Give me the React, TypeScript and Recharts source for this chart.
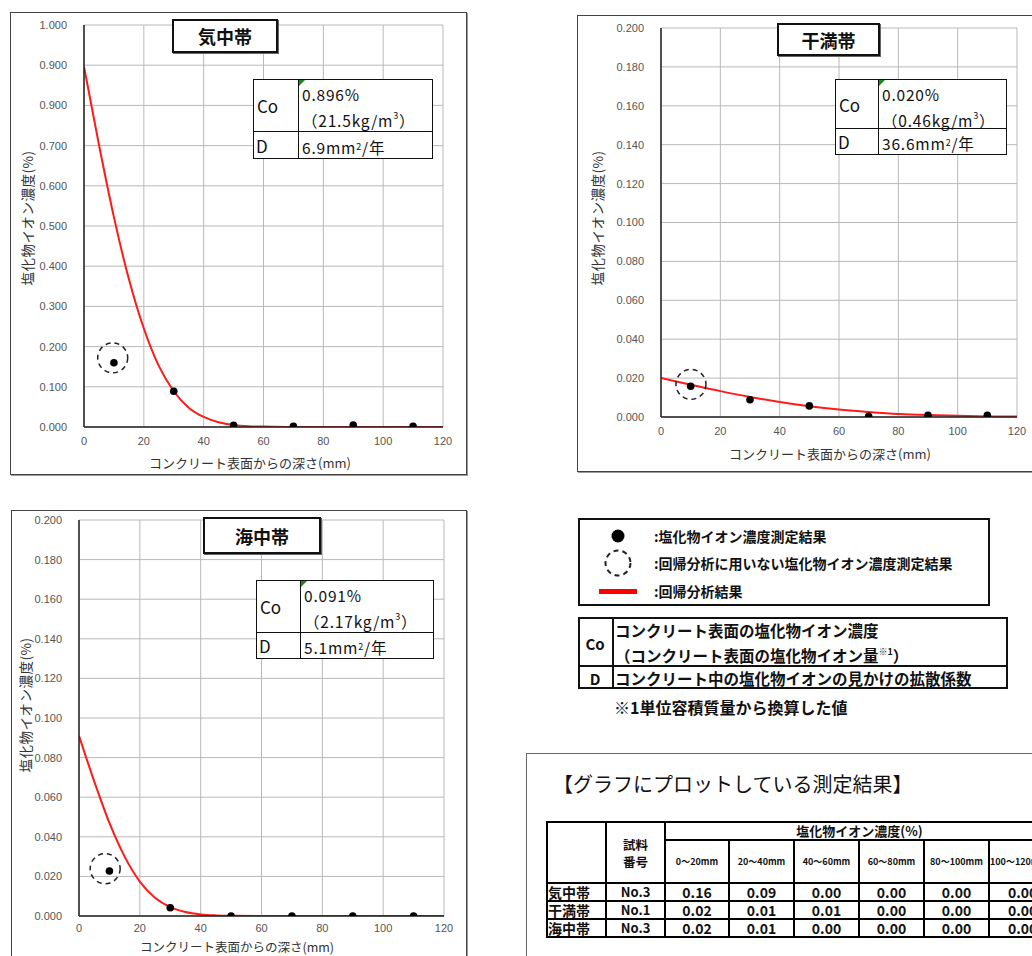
import React from 'react';
import { ComposedChart, Line, Scatter, XAxis, YAxis, CartesianGrid } from 'recharts';

// ---------- shared ----------
const depthTicks = [0, 20, 40, 60, 80, 100, 120];
const depthTickLabels = ['0', '20', '40', '60', '80', '100', '120'];
const measureDepths = [10, 30, 50, 70, 90, 110];
const xAxisTitle = 'コンクリート表面からの深さ(mm)';
const yAxisTitle = '塩化物イオン濃度(%)';

// ---------- 気中帯 ----------
const airYTicks = [0, 0.1, 0.2, 0.3, 0.4, 0.5, 0.6, 0.7, 0.8, 0.9, 1.0];
const airYTickLabels = ['0.000', '0.100', '0.200', '0.300', '0.400', '0.500', '0.600', '0.700', '0.900', '0.900', '1.000'];
const airCurveDepths = [0, 5, 10, 15, 20, 25, 30, 35, 40, 45, 50, 55, 60, 70, 80, 90, 100, 110, 120];
const airCurveValues = [0.896, 0.702, 0.522, 0.368, 0.245, 0.152, 0.089, 0.048, 0.025, 0.012, 0.005, 0.002, 0.001, 0, 0, 0, 0, 0, 0];
const airMeasured = [0.16, 0.089, 0.004, 0.002, 0.005, 0.002];
const airExcludedDepth = [9.6];
const airExcludedValue = [0.172];

// ---------- 干満帯 ----------
const tidalYTicks = [0, 0.02, 0.04, 0.06, 0.08, 0.1, 0.12, 0.14, 0.16, 0.18, 0.2];
const tidalYTickLabels = ['0.000', '0.020', '0.040', '0.060', '0.080', '0.100', '0.120', '0.140', '0.160', '0.180', '0.200'];
const tidalCurveDepths = [0, 10, 20, 30, 40, 50, 60, 70, 80, 90, 100, 110, 120];
const tidalCurveValues = [0.02, 0.0166, 0.0133, 0.0103, 0.0077, 0.0055, 0.0038, 0.0026, 0.0016, 0.001, 0.0006, 0.0003, 0.0002];
const tidalMeasured = [0.0158, 0.0089, 0.0057, 0.0003, 0.0009, 0.0009];
const tidalExcludedDepth = [10.1];
const tidalExcludedValue = [0.0168];

// ---------- 海中帯 ----------
const seaYTicks = [0, 0.02, 0.04, 0.06, 0.08, 0.1, 0.12, 0.14, 0.16, 0.18, 0.2];
const seaYTickLabels = ['0.000', '0.020', '0.040', '0.060', '0.080', '0.100', '0.120', '0.140', '0.160', '0.180', '0.200'];
const seaCurveDepths = [0, 5, 10, 15, 20, 25, 30, 35, 40, 45, 50, 60, 70, 80, 90, 100, 110, 120];
const seaCurveValues = [0.091, 0.068, 0.047, 0.03, 0.0174, 0.0092, 0.0045, 0.002, 0.0008, 0.0003, 0.0001, 0, 0, 0, 0, 0, 0, 0];
const seaMeasured = [0.0227, 0.0042, 0, 0, 0, 0];
const seaExcludedDepth = [8.6];
const seaExcludedValue = [0.0239];

// ---------- measurement table ----------
const tableZones = ['気中帯', '干満帯', '海中帯'];
const tableSampleNos = ['No.3', 'No.1', 'No.3'];
const tableRanges = ['0～20mm', '20～40mm', '40～60mm', '60～80mm', '80～100mm', '100～120mm'];
const tableAir = [0.16, 0.09, 0.0, 0.0, 0.0, 0.0];
const tableTidal = [0.02, 0.01, 0.01, 0.0, 0.0, 0.0];
const tableSea = [0.02, 0.01, 0.0, 0.0, 0.0, 0.0];

const JP = '"Noto Sans CJK JP", "Noto Sans", sans-serif';
const TICKFONT = '"Liberation Sans", Arial, sans-serif';

type Cfg = {
  left: number; top: number; width: number; height: number;
  margin: { top: number; right: number; bottom: number; left: number };
  yAxisWidth: number; xAxisHeight: number; xTickMargin: number;
  yTicks: number[]; yLabels: string[]; yMax: number;
  curveX: number[]; curveY: number[];
  pointY: number[]; exclX: number[]; exclY: number[];
};

const Dot = (p: any) => <circle cx={p.cx} cy={p.cy} r={3.8} fill="#000" />;
const DashedRing = (p: any) => (
  <circle cx={p.cx} cy={p.cy} r={15} fill="none" stroke="#222" strokeWidth={1.5} strokeDasharray="5 4" />
);

function DepthChart({ cfg }: { cfg: Cfg }) {
  const curve = cfg.curveX.map((x, i) => ({ x, y: cfg.curveY[i] }));
  const pts = measureDepths.map((x, i) => ({ x, y: cfg.pointY[i] }));
  const excl = cfg.exclX.map((x, i) => ({ x, y: cfg.exclY[i] }));
  return (
    <div style={{ position: 'absolute', left: cfg.left, top: cfg.top }}>
      <ComposedChart width={cfg.width} height={cfg.height} margin={cfg.margin}>
        <CartesianGrid stroke="#b9b9b9" strokeWidth={1} />
        <XAxis
          type="number" dataKey="x" domain={[0, 120]} ticks={depthTicks} interval={0}
          allowDataOverflow height={cfg.xAxisHeight}
          tickFormatter={(v: number, i: number) => depthTickLabels[depthTicks.indexOf(v)] ?? depthTickLabels[i]}
          tickLine={false} tickSize={6} tickMargin={cfg.xTickMargin}
          axisLine={{ stroke: '#222', strokeWidth: 1.5 }}
          tick={{ fill: '#555', fontSize: 11, fontFamily: TICKFONT }}
        />
        <YAxis
          type="number" dataKey="y" domain={[0, cfg.yMax]} ticks={cfg.yTicks} interval={0}
          allowDataOverflow width={cfg.yAxisWidth}
          tickFormatter={(v: number, i: number) => cfg.yLabels[cfg.yTicks.indexOf(v)] ?? cfg.yLabels[i]}
          tickLine={false} tickSize={6} tickMargin={11}
          axisLine={{ stroke: '#222', strokeWidth: 1.5 }}
          tick={{ fill: '#555', fontSize: 11, fontFamily: TICKFONT }}
        />
        <Line data={curve} dataKey="y" type="monotone" stroke="#ff1a1a" strokeWidth={2}
          dot={false} activeDot={false} isAnimationActive={false} />
        <Scatter data={pts} dataKey="y" shape={Dot} isAnimationActive={false} />
        <Scatter data={excl} dataKey="y" shape={DashedRing} isAnimationActive={false} />
      </ComposedChart>
    </div>
  );
}

function CenterText({ x, y, children, style }: any) {
  return (
    <div style={{
      position: 'absolute', left: x, top: y, transform: 'translate(-50%, -50%)',
      whiteSpace: 'nowrap', fontFamily: JP, ...style,
    }}>{children}</div>
  );
}

function VLabel({ x, y }: { x: number; y: number }) {
  return (
    <div style={{
      position: 'absolute', left: x, top: y, transform: 'translate(-50%, -50%) rotate(-90deg)',
      whiteSpace: 'nowrap', fontFamily: JP, fontSize: 13.5, color: '#333', letterSpacing: 0.5,
    }}>{yAxisTitle}</div>
  );
}

function TitleBox({ x, y, w, h, text }: any) {
  return (
    <div style={{
      position: 'absolute', left: x, top: y, width: w, height: h, boxSizing: 'border-box',
      border: '2px solid #111', background: '#fff', display: 'flex', alignItems: 'center',
      justifyContent: 'center', fontFamily: JP, fontWeight: 700, fontSize: 18, color: '#111',
      boxShadow: '1px 1px 0 #666',
    }}>{text}</div>
  );
}

function InfoTable({ x, y, w, c1, r1, r2, co, kg, d }: any) {
  const cell: React.CSSProperties = { position: 'absolute', boxSizing: 'border-box', fontFamily: JP, color: '#111' };
  return (
    <div style={{ position: 'absolute', left: x, top: y, width: w, height: r1 + r2, background: '#fff',
      border: '1.5px solid #111', boxSizing: 'border-box' }}>
      <div style={{ ...cell, left: 0, top: 0, width: c1, height: r1, borderRight: '1.5px solid #111',
        borderBottom: '1.5px solid #111', display: 'flex', alignItems: 'center', paddingLeft: 3, fontSize: 17 }}>Co</div>
      <div style={{ ...cell, left: 0, top: r1, width: c1, height: r2 - 1.5, borderRight: '1.5px solid #111',
        display: 'flex', alignItems: 'center', paddingLeft: 2, fontSize: 17 }}>D</div>
      <div style={{ ...cell, left: c1, top: 0, right: 0, height: r1, borderBottom: '1.5px solid #111',
        paddingLeft: 3, fontSize: 15.5, lineHeight: '26px', paddingTop: 1, letterSpacing: 0.8 }}>
        <div>{co}</div>
        <div>（{kg}kg/m<sup style={{ fontSize: 9, verticalAlign: 8, lineHeight: 0 }}>3</sup>）</div>
      </div>
      <div style={{ position: 'absolute', left: c1, top: 0, width: 0, height: 0,
        borderTop: '6px solid #1a8a1a', borderRight: '6px solid transparent' }} />
      <div style={{ ...cell, left: c1, top: r1, right: 0, height: r2 - 1.5, paddingLeft: 3,
        fontSize: 15.5, display: 'flex', alignItems: 'center', paddingTop: 3, letterSpacing: 0.8 }}>
        {d}mm<sup style={{ fontSize: 9, verticalAlign: 8, lineHeight: 0 }}>2</sup>/年
      </div>
    </div>
  );
}

const airCfg: Cfg = {
  left: 10, top: 12, width: 457, height: 463,
  margin: { top: 13, right: 24, bottom: 18, left: 0 },
  yAxisWidth: 74, xAxisHeight: 30, xTickMargin: 4,
  yTicks: airYTicks, yLabels: airYTickLabels, yMax: 1.0,
  curveX: airCurveDepths, curveY: airCurveValues,
  pointY: airMeasured, exclX: airExcludedDepth, exclY: airExcludedValue,
};
const tidalCfg: Cfg = {
  left: 577, top: 15, width: 470, height: 457,
  margin: { top: 13, right: 30, bottom: 25, left: 0 },
  yAxisWidth: 84, xAxisHeight: 30, xTickMargin: 4,
  yTicks: tidalYTicks, yLabels: tidalYTickLabels, yMax: 0.2,
  curveX: tidalCurveDepths, curveY: tidalCurveValues,
  pointY: tidalMeasured, exclX: tidalExcludedDepth, exclY: tidalExcludedValue,
};
const seaCfg: Cfg = {
  left: 11, top: 510, width: 456, height: 470,
  margin: { top: 10, right: 23, bottom: 34, left: 0 },
  yAxisWidth: 68, xAxisHeight: 30, xTickMargin: 2,
  yTicks: seaYTicks, yLabels: seaYTickLabels, yMax: 0.2,
  curveX: seaCurveDepths, curveY: seaCurveValues,
  pointY: seaMeasured, exclX: seaExcludedDepth, exclY: seaExcludedValue,
};

function PanelBorder({ cfg }: { cfg: Cfg }) {
  return <div style={{ position: 'absolute', left: cfg.left, top: cfg.top, width: cfg.width, height: cfg.height,
    border: '1.5px solid #444', boxSizing: 'border-box', boxShadow: '1px 1px 0 #999' }} />;
}

function MeasureTable() {
  const colW = [59, 59, 64, 65, 65, 65, 65, 65];
  const b = '2px solid #000';
  const td: React.CSSProperties = { border: b, padding: 0, textAlign: 'center', fontFamily: JP, fontWeight: 700,
    color: '#111', overflow: 'hidden', whiteSpace: 'nowrap' };
  const rows = [tableAir, tableTidal, tableSea];
  return (
    <table style={{ position: 'absolute', left: 546, top: 821, borderCollapse: 'collapse', tableLayout: 'fixed',
      width: colW.reduce((a, c) => a + c, 0) }}>
      <colgroup>{colW.map((w, i) => <col key={i} style={{ width: w }} />)}</colgroup>
      <tbody>
        <tr style={{ height: 18 }}>
          <td rowSpan={2} style={td}></td>
          <td rowSpan={2} style={{ ...td, fontSize: 12.5, lineHeight: '17px' }}>試料<br />番号</td>
          <td colSpan={6} style={{ ...td, fontSize: 13, lineHeight: '14px' }}>塩化物イオン濃度(%)</td>
        </tr>
        <tr style={{ height: 43 }}>
          {tableRanges.map((r, i) => (
            <td key={i} style={{ ...td, fontSize: 9, textAlign: i === 5 ? 'left' : 'center' }}>{r}</td>
          ))}
        </tr>
        {rows.map((vals, ri) => (
          <tr key={ri} style={{ height: 18 }}>
            <td style={{ ...td, fontSize: 14, textAlign: 'left', lineHeight: '14px' }}>{tableZones[ri]}</td>
            <td style={{ ...td, fontSize: 13, lineHeight: '14px' }}>{tableSampleNos[ri]}</td>
            {vals.map((v, ci) => (
              <td key={ci} style={{ ...td, fontSize: 14, lineHeight: '14px', textAlign: ci === 5 ? 'left' : 'center',
                paddingLeft: ci === 5 ? 18 : 0 }}>{v.toFixed(2)}</td>
            ))}
          </tr>
        ))}
      </tbody>
    </table>
  );
}

export default function App() {
  return (
    <div style={{ position: 'absolute', left: 0, top: 0, width: 1032, height: 956, overflow: 'hidden', background: '#fff' }}>
      {/* 気中帯 */}
      <PanelBorder cfg={airCfg} />
      <DepthChart cfg={airCfg} />
      <VLabel x={27} y={218} />
      <CenterText x={250} y={462} style={{ fontSize: 13, color: '#333' }}>{xAxisTitle}</CenterText>
      <TitleBox x={172} y={19} w={106} h={34} text="気中帯" />
      <InfoTable x={253} y={79} w={180} c1={45} r1={52} r2={28} co="0.896%" kg="21.5" d="6.9" />

      {/* 干満帯 */}
      <PanelBorder cfg={tidalCfg} />
      <DepthChart cfg={tidalCfg} />
      <VLabel x={597} y={218} />
      <CenterText x={830} y={453} style={{ fontSize: 13, color: '#333' }}>{xAxisTitle}</CenterText>
      <TitleBox x={777} y={23} w={103} h={33} text="干満帯" />
      <InfoTable x={835} y={79} w={172} c1={43} r1={49} r2={27} co="0.020%" kg="0.46" d="36.6" />

      {/* 海中帯 */}
      <PanelBorder cfg={seaCfg} />
      <DepthChart cfg={seaCfg} />
      <VLabel x={25} y={705} />
      <CenterText x={237} y={946} style={{ fontSize: 12.5, color: '#333' }}>{xAxisTitle}</CenterText>
      <TitleBox x={203} y={517} w={118} h={37} text="海中帯" />
      <InfoTable x={256} y={580} w={178} c1={44} r1={52} r2={27} co="0.091%" kg="2.17" d="5.1" />

      {/* legend */}
      <div style={{ position: 'absolute', left: 578, top: 518, width: 412, height: 88, border: '2px solid #111',
        boxSizing: 'border-box', background: '#fff' }} />
      <svg style={{ position: 'absolute', left: 590, top: 520 }} width={60} height={84}>
        <circle cx={28} cy={16} r={6.5} fill="#000" />
        <circle cx={28} cy={43} r={12.5} fill="none" stroke="#222" strokeWidth={2} strokeDasharray="5 4" />
        <rect x={9} y={69} width={38} height={5} fill="#ff0000" />
      </svg>
      {[':塩化物イオン濃度測定結果', ':回帰分析に用いない塩化物イオン濃度測定結果', ':回帰分析結果'].map((t, i) => (
        <div key={i} style={{ position: 'absolute', left: 654, top: [536, 563, 591][i], transform: 'translateY(-50%)',
          fontFamily: JP, fontWeight: 700, fontSize: 14, color: '#111', whiteSpace: 'nowrap' }}>{t}</div>
      ))}

      {/* definition table */}
      <div style={{ position: 'absolute', left: 578, top: 617, width: 430, height: 72, border: '2px solid #111',
        boxSizing: 'border-box', background: '#fff' }} />
      <div style={{ position: 'absolute', left: 612, top: 617, width: 2, height: 72, background: '#111' }} />
      <div style={{ position: 'absolute', left: 578, top: 665, width: 430, height: 2, background: '#111' }} />
      <CenterText x={595} y={643} style={{ fontSize: 15, fontWeight: 700, color: '#111' }}>Co</CenterText>
      <CenterText x={595} y={678} style={{ fontSize: 15, fontWeight: 700, color: '#111' }}>D</CenterText>
      <div style={{ position: 'absolute', left: 615, top: 630, transform: 'translateY(-50%)', fontFamily: JP,
        fontWeight: 700, fontSize: 15.5, color: '#111', whiteSpace: 'nowrap' }}>コンクリート表面の塩化物イオン濃度</div>
      <div style={{ position: 'absolute', left: 615, top: 655, transform: 'translateY(-50%)', fontFamily: JP,
        fontWeight: 700, fontSize: 15.5, color: '#111', whiteSpace: 'nowrap' }}>
        （コンクリート表面の塩化物イオン量<sup style={{ fontSize: 9, verticalAlign: 7, lineHeight: 0 }}>※1</sup>）
      </div>
      <div style={{ position: 'absolute', left: 615, top: 678, transform: 'translateY(-50%)', fontFamily: JP,
        fontWeight: 700, fontSize: 15.5, color: '#111', whiteSpace: 'nowrap' }}>コンクリート中の塩化物イオンの見かけの拡散係数</div>
      <div style={{ position: 'absolute', left: 614, top: 707, transform: 'translateY(-50%)', fontFamily: JP,
        fontWeight: 700, fontSize: 16, color: '#111', whiteSpace: 'nowrap' }}>※1単位容積質量から換算した値</div>

      {/* measurement table */}
      <div style={{ position: 'absolute', left: 526, top: 753, width: 560, height: 260, border: '1.5px solid #666',
        boxSizing: 'border-box', background: '#fff' }} />
      <div style={{ position: 'absolute', left: 553, top: 783, transform: 'translateY(-50%)', fontFamily: JP,
        fontSize: 20, color: '#111', whiteSpace: 'nowrap' }}>【グラフにプロットしている測定結果】</div>
      <MeasureTable />
    </div>
  );
}
